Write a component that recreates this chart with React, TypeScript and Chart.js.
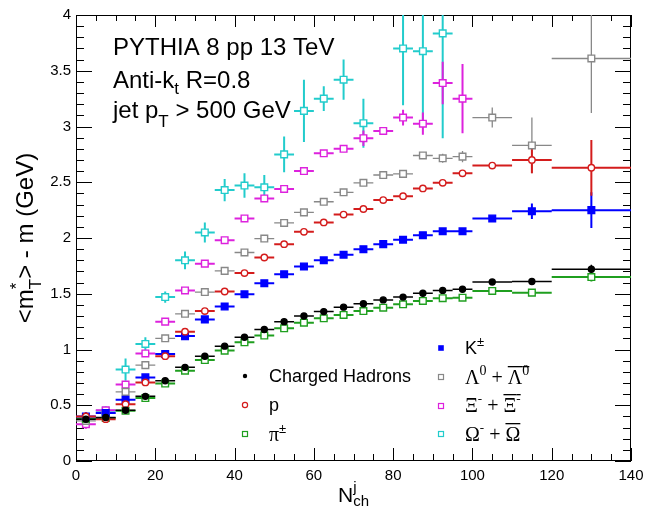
import React, { useEffect, useRef } from "react";
import { Chart, registerables } from "chart.js";

Chart.register(...registerables);

// ---------- data ----------
const binCenters = [2.5, 7.5, 12.5, 17.5, 22.5, 27.5, 32.5, 37.5, 42.5, 47.5, 52.5, 57.5, 62.5, 67.5, 72.5, 77.5, 82.5, 87.5, 92.5, 97.5, 105, 115, 130];
const binHalfWidths = [2.5, 2.5, 2.5, 2.5, 2.5, 2.5, 2.5, 2.5, 2.5, 2.5, 2.5, 2.5, 2.5, 2.5, 2.5, 2.5, 2.5, 2.5, 2.5, 2.5, 5, 5, 10];

const chargedHadrons = [0.375, 0.39, 0.455, 0.58, 0.72, 0.84, 0.94, 1.03, 1.11, 1.18, 1.25, 1.30, 1.34, 1.38, 1.41, 1.445, 1.47, 1.505, 1.53, 1.54, 1.605, 1.61, 1.72];
const chargedErr = [0.02, 0.01, 0.01, 0.01, 0.01, 0.01, 0.01, 0.01, 0.01, 0.01, 0.01, 0.01, 0.01, 0.01, 0.01, 0.01, 0.01, 0.01, 0.01, 0.01, 0.01, 0.01, 0.04];

const pion = [0.38, 0.385, 0.45, 0.565, 0.695, 0.81, 0.905, 0.99, 1.065, 1.125, 1.19, 1.24, 1.28, 1.31, 1.345, 1.375, 1.405, 1.435, 1.46, 1.465, 1.525, 1.51, 1.65];
const pionErr = [0.02, 0.01, 0.01, 0.01, 0.01, 0.01, 0.01, 0.01, 0.01, 0.01, 0.01, 0.01, 0.01, 0.01, 0.01, 0.01, 0.01, 0.01, 0.01, 0.01, 0.01, 0.01, 0.04];

const kaon = [0.40, 0.43, 0.55, 0.75, 0.96, 1.12, 1.27, 1.385, 1.495, 1.595, 1.675, 1.745, 1.80, 1.85, 1.90, 1.945, 1.985, 2.025, 2.06, 2.06, 2.175, 2.24, 2.25];
const kaonErr = [0.02, 0.01, 0.01, 0.01, 0.01, 0.01, 0.01, 0.01, 0.01, 0.01, 0.01, 0.01, 0.01, 0.01, 0.01, 0.01, 0.01, 0.01, 0.01, 0.01, 0.02, 0.07, 0.16];

const proton = [0.40, 0.375, 0.51, 0.705, 0.94, 1.16, 1.345, 1.52, 1.685, 1.825, 1.945, 2.055, 2.14, 2.21, 2.26, 2.34, 2.375, 2.445, 2.495, 2.58, 2.65, 2.70, 2.63];
const protonErr = [0.04, 0.02, 0.01, 0.01, 0.01, 0.01, 0.01, 0.01, 0.01, 0.01, 0.01, 0.01, 0.01, 0.01, 0.01, 0.01, 0.01, 0.01, 0.01, 0.02, 0.03, 0.12, 0.25];

const lambda = [0.36, 0.43, 0.62, 0.86, 1.10, 1.32, 1.515, 1.705, 1.87, 1.995, 2.135, 2.23, 2.325, 2.41, 2.495, 2.565, 2.575, 2.74, 2.715, 2.73, 3.08, 2.83, 3.61];
const lambdaErr = [0.03, 0.02, 0.01, 0.01, 0.01, 0.01, 0.01, 0.01, 0.01, 0.01, 0.01, 0.01, 0.01, 0.01, 0.01, 0.01, 0.01, 0.02, 0.04, 0.05, 0.09, 0.25, 0.49];

const xi = [0.33, 0.455, 0.685, 0.965, 1.25, 1.53, 1.77, 1.98, 2.175, 2.355, 2.44, 2.60, 2.76, 2.80, 2.895, 2.96, 3.08, 3.025, 3.39, 3.25];
const xiErr = [0.04, 0.02, 0.02, 0.02, 0.02, 0.02, 0.02, 0.02, 0.02, 0.02, 0.02, 0.03, 0.02, 0.02, 0.07, 0.03, 0.07, 0.10, 0.19, 0.31];

const omega = [null, 0.45, 0.82, 1.05, 1.47, 1.80, 2.05, 2.43, 2.47, 2.455, 2.75, 3.14, 3.25, 3.42, 3.03, null, 3.70, 3.675, 3.835, null];
const omegaErr = [0, 0.04, 0.10, 0.06, 0.05, 0.08, 0.09, 0.10, 0.11, 0.11, 0.16, 0.28, 0.11, 0.18, 0.22, 0, 0.51, 0.67, 0.94, 0];

const xTickStep = 20;
const yTickStep = 0.5;

// ---------- styling ----------
const SANS = "'Liberation Sans', Arial, sans-serif";
const SERIF = "'Liberation Serif', 'Times New Roman', serif";
const C_BLACK = "#000000";
const C_RED = "#d41c1c";
const C_GREEN = "#1f9f1f";
const C_BLUE = "#0000ff";
const C_GREY = "#888888";
const C_MAGENTA = "#dd22dd";
const C_CYAN = "#22cccc";

function toPoints(vals: (number | null)[]) {
  const out: { x: number; y: number }[] = [];
  vals.forEach((v, i) => {
    if (v !== null && v !== undefined) out.push({ x: binCenters[i], y: v });
  });
  return out;
}
function toErr(vals: (number | null)[], errs: number[]) {
  const out: { hw: number; e: number }[] = [];
  vals.forEach((v, i) => {
    if (v !== null && v !== undefined) out.push({ hw: binHalfWidths[i], e: errs[i] });
  });
  return out;
}

function makeDataset(label: string, vals: (number | null)[], errs: number[], color: string, style: string, filled: boolean, radius: number, errWidth: number) {
  return {
    label,
    data: toPoints(vals),
    errInfo: toErr(vals, errs),
    errColor: color,
    errWidth,
    showLine: false,
    pointStyle: style,
    pointRadius: radius,
    pointBorderWidth: 1.4,
    pointBorderColor: color,
    pointBackgroundColor: filled ? color : "#ffffff",
    pointHoverRadius: radius,
  };
}

type Part = { t: string; size: number; family?: string; dy?: number; stack?: boolean; ov?: number };

function drawRich(ctx: CanvasRenderingContext2D, x: number, y: number, parts: Part[], doDraw = true) {
  let cx = x;
  let prevStart = x;
  let prevW = 0;
  for (const p of parts) {
    ctx.font = `${p.size}px ${p.family || SANS}`;
    const w = ctx.measureText(p.t).width;
    let sx: number;
    if (p.stack) {
      sx = prevStart;
      const end = Math.max(prevStart + prevW, sx + w);
      cx = end;
      prevW = end - prevStart;
    } else {
      sx = cx;
      cx += w;
      prevStart = sx;
      prevW = w;
    }
    if (doDraw) {
      ctx.fillText(p.t, sx, y + (p.dy || 0));
      if (p.ov !== undefined) {
        ctx.fillRect(sx, y + p.ov, w, 1.3);
      }
    }
  }
  return cx - x;
}

const decorPlugin = {
  id: "rootDecor",
  beforeDatasetsDraw(chart: any) {
    const ctx: CanvasRenderingContext2D = chart.ctx;
    const xs = chart.scales.x;
    const ys = chart.scales.y;
    const a = chart.chartArea;
    ctx.save();
    // frame
    ctx.strokeStyle = "#000";
    ctx.lineWidth = 1;
    ctx.strokeRect(Math.round(a.left) + 0.5, Math.round(a.top) + 0.5, Math.round(a.right - a.left) - 1, Math.round(a.bottom - a.top) - 1);
    // x ticks
    ctx.beginPath();
    for (let i = 0; i <= 28; i++) {
      const v = i * 5;
      const px = Math.round(xs.getPixelForValue(v)) + 0.5;
      const major = v % xTickStep === 0;
      const lb = major ? 13 : 7;
      const lt = major ? 12 : 6;
      ctx.moveTo(px, a.bottom);
      ctx.lineTo(px, a.bottom - lb);
      ctx.moveTo(px, a.top);
      ctx.lineTo(px, a.top + lt);
    }
    // y ticks
    for (let i = 0; i <= 40; i++) {
      const v = i * 0.1;
      const py = Math.round(ys.getPixelForValue(v)) + 0.5;
      const major = i % 5 === 0;
      const l = major ? 16 : 8;
      ctx.moveTo(a.left, py);
      ctx.lineTo(a.left + l, py);
      ctx.moveTo(a.right, py);
      ctx.lineTo(a.right - l, py);
    }
    ctx.stroke();

    // error bars
    ctx.beginPath();
    ctx.rect(a.left, a.top, a.right - a.left, a.bottom - a.top);
    ctx.clip();
    const dsList = chart.data.datasets;
    for (let d = dsList.length - 1; d >= 0; d--) {
      const ds = dsList[d];
      ctx.strokeStyle = ds.errColor;
      ctx.lineWidth = ds.errWidth;
      ctx.beginPath();
      ds.data.forEach((pt: any, i: number) => {
        const inf = ds.errInfo[i];
        const py = ys.getPixelForValue(pt.y);
        ctx.moveTo(xs.getPixelForValue(pt.x - inf.hw), py);
        ctx.lineTo(xs.getPixelForValue(pt.x + inf.hw), py);
        if (inf.e > 0) {
          const px = xs.getPixelForValue(pt.x);
          ctx.moveTo(px, ys.getPixelForValue(pt.y - inf.e));
          ctx.lineTo(px, ys.getPixelForValue(pt.y + inf.e));
        }
      });
      ctx.stroke();
    }
    ctx.restore();
  },
  afterDraw(chart: any) {
    const ctx: CanvasRenderingContext2D = chart.ctx;
    const a = chart.chartArea;
    ctx.save();
    ctx.fillStyle = "#000";
    ctx.textBaseline = "alphabetic";
    ctx.textAlign = "left";

    // header text
    drawRich(ctx, 113, 55, [{ t: "PYTHIA 8 pp 13 TeV", size: 24 }]);
    drawRich(ctx, 113, 88, [
      { t: "Anti-k", size: 24 },
      { t: "t", size: 17, dy: 6 },
      { t: " R=0.8", size: 24 },
    ]);
    drawRich(ctx, 113, 118, [
      { t: "jet p", size: 24 },
      { t: "T", size: 17, dy: 9 },
      { t: " > 500 GeV", size: 24 },
    ]);

    // x title (centred on axis)
    const xParts: Part[] = [
      { t: "N", size: 21 },
      { t: "j", size: 15, dy: -10 },
      { t: "ch", size: 15, dy: 4, stack: true },
    ];
    const xw = drawRich(ctx, 0, 0, xParts, false);
    drawRich(ctx, (a.left + a.right) / 2 - xw / 2, 502, xParts);

    // y title (rotated, centred on axis)
    const yParts: Part[] = [
      { t: "<m", size: 24 },
      { t: "T", size: 17, dy: 8 },
      { t: "*", size: 17, dy: -11, stack: true },
      { t: "> - m (GeV)", size: 24 },
    ];
    const yw = drawRich(ctx, 0, 0, yParts, false);
    ctx.save();
    ctx.translate(33, (a.top + a.bottom) / 2);
    ctx.rotate(-Math.PI / 2);
    drawRich(ctx, -yw / 2, 0, yParts);
    ctx.restore();

    // legend
    const marker = (x: number, y: number, color: string, kind: string) => {
      ctx.save();
      ctx.strokeStyle = color;
      ctx.fillStyle = color;
      ctx.lineWidth = 1.2;
      if (kind === "dot") {
        ctx.beginPath();
        ctx.arc(x, y, 2.2, 0, Math.PI * 2);
        ctx.fill();
      } else if (kind === "ocircle") {
        ctx.beginPath();
        ctx.arc(x, y, 2.6, 0, Math.PI * 2);
        ctx.stroke();
      } else if (kind === "fsquare") {
        ctx.fillRect(x - 2.8, y - 2.8, 5.6, 5.6);
      } else {
        ctx.strokeRect(x - 2.5, y - 2.5, 5, 5);
      }
      ctx.restore();
    };
    const lx1 = 245, tx1 = 269, lx2 = 441, tx2 = 465;
    marker(lx1, 376, C_BLACK, "dot");
    drawRich(ctx, tx1, 382, [{ t: "Charged Hadrons", size: 18 }]);
    marker(lx1, 405, C_RED, "ocircle");
    drawRich(ctx, tx1, 411, [{ t: "p", size: 18 }]);
    marker(lx1, 434, C_GREEN, "osquare");
    drawRich(ctx, tx1, 441, [
      { t: "\u03c0", size: 20, family: SERIF },
      { t: "\u00b1", size: 13, dy: -8 },
    ]);

    marker(lx2, 348, C_BLUE, "fsquare");
    drawRich(ctx, tx2, 354, [
      { t: "K", size: 18 },
      { t: "\u00b1", size: 13, dy: -8 },
    ]);
    marker(lx2, 377, C_GREY, "osquare");
    drawRich(ctx, tx2, 384, [
      { t: "\u039b", size: 20, family: SERIF },
      { t: "0", size: 14, family: SERIF, dy: -9 },
      { t: " + ", size: 20, family: SERIF },
      { t: "\u039b", size: 20, family: SERIF, ov: -18 },
      { t: "0", size: 14, family: SERIF, dy: -9, ov: -18 },
    ]);
    marker(lx2, 406, C_MAGENTA, "osquare");
    drawRich(ctx, tx2, 412, [
      { t: "\u039e", size: 20, family: SERIF },
      { t: "-", size: 13, family: SERIF, dy: -9 },
      { t: " + ", size: 20, family: SERIF },
      { t: "\u039e", size: 20, family: SERIF, ov: -18 },
      { t: "-", size: 13, family: SERIF, dy: -9, ov: -18 },
    ]);
    marker(lx2, 434, C_CYAN, "osquare");
    drawRich(ctx, tx2, 441, [
      { t: "\u03a9", size: 20, family: SERIF },
      { t: "-", size: 13, family: SERIF, dy: -9 },
      { t: " + ", size: 20, family: SERIF },
      { t: "\u03a9", size: 20, family: SERIF, ov: -18 },
    ]);
    ctx.restore();
  },
};

export default function App() {
  const ref = useRef<HTMLCanvasElement>(null);
  useEffect(() => {
    if (!ref.current) return;
    const datasets: any[] = [
      makeDataset("Charged Hadrons", chargedHadrons, chargedErr, C_BLACK, "circle", true, 3, 1.5),
      makeDataset("p", proton, protonErr, C_RED, "circle", false, 3.2, 2),
      makeDataset("K", kaon, kaonErr, C_BLUE, "rect", true, 4.7, 2),
      makeDataset("pi", pion, pionErr, C_GREEN, "rect", false, 4.7, 2),
      makeDataset("Lambda", lambda, lambdaErr, C_GREY, "rect", false, 4.7, 1.3),
      makeDataset("Xi", xi, xiErr, C_MAGENTA, "rect", false, 4.7, 2),
      makeDataset("Omega", omega, omegaErr, C_CYAN, "rect", false, 4.7, 2),
    ];
    const chart = new Chart(ref.current, {
      type: "scatter",
      data: { datasets },
      options: {
        animation: false,
        responsive: false,
        maintainAspectRatio: false,
        devicePixelRatio: 1,
        events: [],
        layout: { padding: { left: 0, right: 15, top: 15, bottom: 0 } },
        plugins: { legend: { display: false }, tooltip: { enabled: false } },
        scales: {
          x: {
            type: "linear",
            min: 0,
            max: 140,
            grid: { display: false, drawTicks: false, tickLength: 0 },
            border: { display: false },
            ticks: {
              stepSize: xTickStep,
              color: "#000",
              padding: 6,
              maxRotation: 0,
              autoSkip: false,
              font: { family: SANS, size: 15 },
              callback: (v: any) => String(Math.round(Number(v))),
            },
            afterFit: (s: any) => {
              s.height = 45;
              s.paddingLeft = 0;
              s.paddingRight = 0;
            },
          },
          y: {
            type: "linear",
            min: 0,
            max: 4,
            grid: { display: false, drawTicks: false, tickLength: 0 },
            border: { display: false },
            ticks: {
              stepSize: yTickStep,
              color: "#000",
              padding: 5,
              autoSkip: false,
              font: { family: SANS, size: 15 },
              callback: (v: any) => String(Math.round(Number(v) * 100) / 100),
            },
            afterFit: (s: any) => {
              s.width = 76;
              s.paddingTop = 0;
              s.paddingBottom = 0;
            },
          },
        },
      } as any,
      plugins: [decorPlugin],
    });
    return () => chart.destroy();
  }, []);
  return (
    <div style={{ position: "absolute", left: 0, top: 0, width: 646, height: 506, background: "#fff" }}>
      <canvas ref={ref} width={646} height={506} style={{ display: "block", width: 646, height: 506 }} />
    </div>
  );
}
